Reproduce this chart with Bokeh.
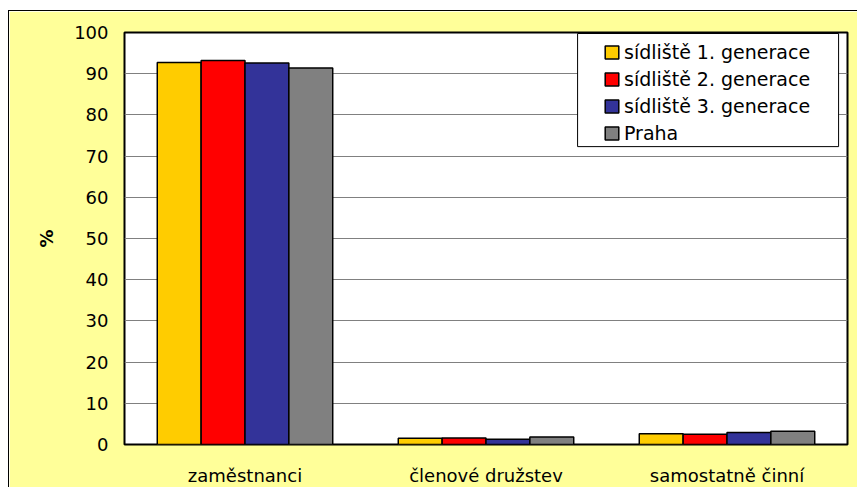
from bokeh.plotting import figure
from bokeh.models import (FactorRange, Range1d, Legend, LegendItem, BoxAnnotation,
                          FixedTicker)
from bokeh.transform import dodge
from bokeh.embed import file_html
from bokeh.resources import INLINE

categories = ["zaměstnanci", "členové družstev", "samostatně činní"]
series_names = ["sídliště 1. generace", "sídliště 2. generace", "sídliště 3. generace", "Praha"]
sidliste_1 = [92.7, 1.5, 2.6]
sidliste_2 = [93.2, 1.6, 2.5]
sidliste_3 = [92.6, 1.3, 2.9]
praha = [91.4, 1.8, 3.2]
y_ticks = [0, 10, 20, 30, 40, 50, 60, 70, 80, 90, 100]

colors = ["#FFCC00", "#FF0000", "#333399", "#808080"]
values = [sidliste_1, sidliste_2, sidliste_3, praha]
FONT = "DejaVu Sans"

p = figure(x_range=FactorRange(*categories, range_padding=0), y_range=Range1d(0, 100),
           width=849, height=477, output_backend="svg", toolbar_location=None,
           min_border_left=115, min_border_right=11, min_border_top=21, min_border_bottom=44)
p.margin = (10, 0, 0, 8)
p.styles = {"border-left": "1px solid black", "border-top": "1px solid black"}

p.border_fill_color = "#FFFF99"
p.background_fill_color = "white"
p.outline_line_color = "black"
p.outline_line_width = 2

data = {"cat": categories}
for i, v in enumerate(values):
    data[f"s{i}"] = v

bw = 0.182
offsets = [-1.5 * bw, -0.5 * bw, 0.5 * bw, 1.5 * bw]
renderers = []
for i in range(4):
    r = p.vbar(x=dodge("cat", offsets[i], range=p.x_range), top=f"s{i}", width=bw,
               source=data, fill_color=colors[i], line_color="black", line_width=1.5)
    renderers.append(r)

# axes
p.yaxis.ticker = FixedTicker(ticks=y_ticks)
for ax in (p.xaxis[0], p.yaxis[0]):
    ax.axis_line_color = None
    ax.major_tick_line_color = None
    ax.minor_tick_line_color = None
    ax.major_label_text_font = FONT
    ax.major_label_text_font_size = "18px"
    ax.major_label_text_color = "black"
p.yaxis.major_label_standoff = 10
p.xaxis.major_label_standoff = 14
p.yaxis.axis_label = "%"
p.yaxis.axis_label_text_font = FONT
p.yaxis.axis_label_text_font_size = "18px"
p.yaxis.axis_label_text_font_style = "bold"
p.yaxis.axis_label_text_color = "black"
p.yaxis.axis_label_standoff = 14

p.xgrid.grid_line_color = None
p.ygrid.ticker = FixedTicker(ticks=y_ticks)
p.ygrid.grid_line_color = "#808080"
p.ygrid.grid_line_width = 1

# legend box
box = BoxAnnotation(left=1.88, right=2.963, bottom=72.3, top=99.76,
                    fill_color="white", fill_alpha=1.0, line_color="black", line_width=1,
                    line_alpha=1.0)
p.add_layout(box)

legend = Legend(items=[LegendItem(label=series_names[i], renderers=[renderers[i]]) for i in range(4)],
                location=(479, 300), padding=4, spacing=5, glyph_width=17, glyph_height=16,
                label_height=22, label_standoff=4, label_text_font=FONT,
                label_text_font_size="19px", label_text_color="black",
                border_line_color=None, background_fill_alpha=0, margin=0)
p.add_layout(legend, "center")

open("out.html", "w").write(file_html(p, INLINE))
